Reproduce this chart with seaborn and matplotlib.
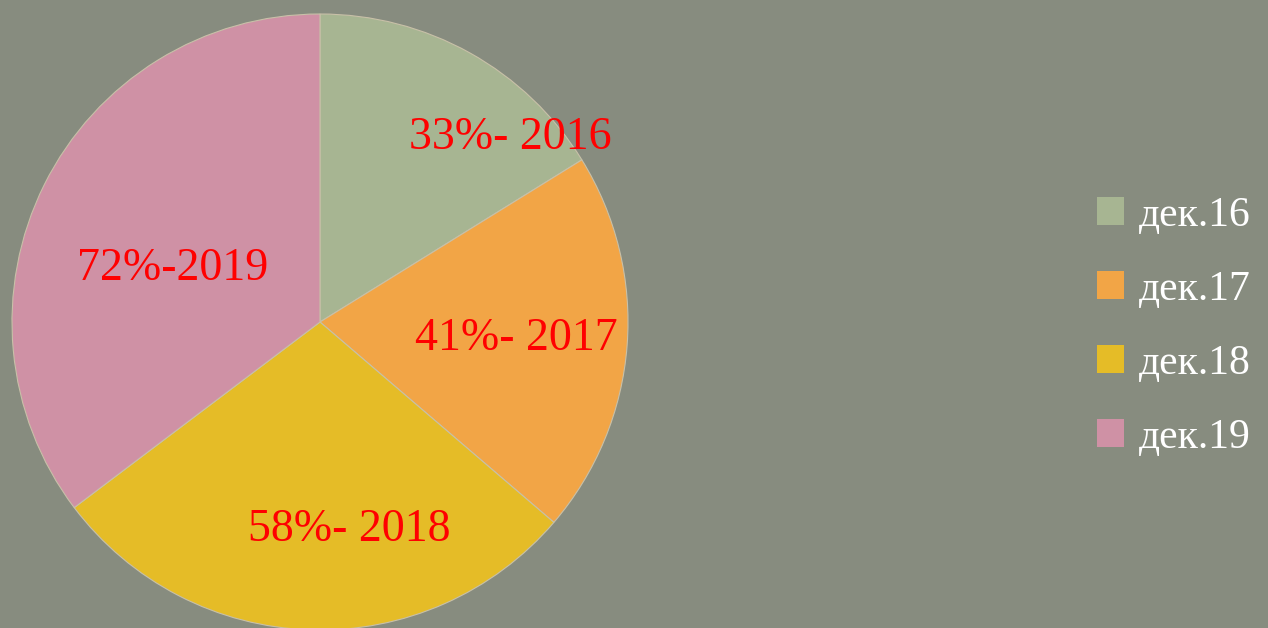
import matplotlib.pyplot as plt
import seaborn as sns
import numpy as np

# pie data
values = [33, 41, 58, 72]
slice_labels = ["33%- 2016", "41%- 2017", "58%- 2018", "72%-2019"]
legend_labels = ["дек.16", "дек.17", "дек.18", "дек.19"]
colors = ["#a7b592", "#f2a546", "#e5bc27", "#cf91a5"]

# where the labels sit: angle (deg clockwise from top) and radius fraction
label_angle = [46, 95, 172, 290]
label_radius = [0.86, 0.64, 0.68, 0.51]

bg = "#878c7f"
sns.set_theme(style="white")
plt.rcParams["font.family"] = ["Liberation Serif", "DejaVu Serif"]

fig = plt.figure(figsize=(12.68, 6.28), dpi=100, facecolor=bg)
ax = fig.add_axes([12 / 1268, -2 / 628, 616 / 1268, 616 / 628])
ax.set_facecolor(bg)

wedges, _ = ax.pie(values, colors=sns.color_palette(colors), startangle=90,
                   counterclock=False, radius=1,
                   wedgeprops=dict(linewidth=0.8, edgecolor="#c8c0a8"))
ax.set_xlim(-1, 1)
ax.set_ylim(-1, 1)
ax.set_aspect("equal")
ax.axis("off")

for txt, a, r in zip(slice_labels, label_angle, label_radius):
    t = np.deg2rad(a)
    ax.text(r * np.sin(t), r * np.cos(t), txt, color="#ff0000",
            fontsize=33, ha="center", va="center")

handles = [plt.Rectangle((0, 0), 1, 1, facecolor=c, edgecolor="none")
           for c in colors]
leg = fig.legend(handles, legend_labels, loc="center left",
                 bbox_to_anchor=(1097 / 1268, 0.48), frameon=False,
                 borderaxespad=0, borderpad=0,
                 fontsize=30, labelcolor="white", handlelength=0.65,
                 handleheight=0.65, handletextpad=0.35, labelspacing=0.85)

fig.savefig("out.png", dpi=100, facecolor=bg)
